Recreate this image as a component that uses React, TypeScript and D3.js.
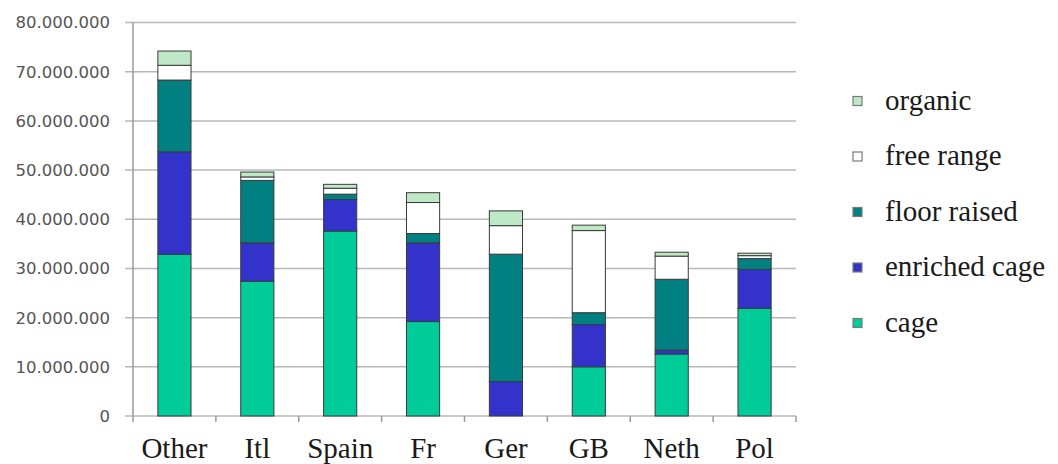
import React from "react";
import * as d3 from "d3";

const countries = ["Other", "Itl", "Spain", "Fr", "Ger", "GB", "Neth", "Pol"];
const seriesKeys = ["cage", "enriched cage", "floor raised", "free range", "organic"];
// values in millions of hens
const cage = [32.9, 27.4, 37.6, 19.2, 0, 10.0, 12.6, 21.9];
const enrichedCage = [20.8, 7.8, 6.4, 16.0, 7.0, 8.6, 0.8, 7.9];
const floorRaised = [14.6, 12.7, 1.1, 1.9, 25.9, 2.4, 14.4, 2.2];
const freeRange = [3.0, 0.7, 1.2, 6.3, 5.8, 16.7, 4.7, 0.6];
const organic = [2.9, 1.0, 0.8, 2.0, 3.0, 1.1, 0.8, 0.5];
const yTicks = [0, 10000000, 20000000, 30000000, 40000000, 50000000, 60000000, 70000000, 80000000];
const legendOrder = ["organic", "free range", "floor raised", "enriched cage", "cage"];

const colors: Record<string, string> = {
  cage: "#00cc99",
  "enriched cage": "#3333cc",
  "floor raised": "#008080",
  "free range": "#ffffff",
  organic: "#bfe8c6",
};

const W = 1058;
const H = 464;
const left = 133;
const right = 796;
const top = 22.5;
const bottom = 416;

export default function App() {
  const rows = countries.map((c, i) => ({
    country: c,
    cage: cage[i] * 1e6,
    "enriched cage": enrichedCage[i] * 1e6,
    "floor raised": floorRaised[i] * 1e6,
    "free range": freeRange[i] * 1e6,
    organic: organic[i] * 1e6,
  }));
  const stacked = d3.stack<any>().keys(seriesKeys)(rows);
  const x = d3.scaleBand().domain(countries).range([left, right]).paddingInner(0).paddingOuter(0);
  const y = d3.scaleLinear().domain([0, 80000000]).range([bottom, top]);
  const barW = x.bandwidth() * 0.4;
  const fmt = (v: number) => d3.format(",")(v).replace(/,/g, ".");

  return (
    <svg width={W} height={H} style={{ position: "absolute", left: 0, top: 0, background: "#fff" }}>
      {/* gridlines and y ticks */}
      {yTicks.map((t) => (
        <g key={t}>
          <line x1={left - 8} x2={right} y1={y(t)} y2={y(t)} stroke="#b8b8b8" strokeWidth={1.5} />
          <text
            x={110}
            y={y(t)}
            dy="0.36em"
            textAnchor="end"
            fontFamily="DejaVu Sans"
            fontSize={16.5}
            fill="#555"
          >
            {fmt(t)}
          </text>
        </g>
      ))}
      {/* y axis */}
      <line x1={left} x2={left} y1={top} y2={bottom} stroke="#9a9a9a" strokeWidth={1.5} />
      {/* x ticks */}
      {countries.concat(["__end"]).map((c, i) => {
        const xx = i < countries.length ? (x(c) as number) : right;
        return <line key={c} x1={xx} x2={xx} y1={bottom} y2={bottom + 6} stroke="#9a9a9a" strokeWidth={1.5} />;
      })}
      {/* bars */}
      {stacked.map((s) => (
        <g key={s.key}>
          {s.map((d, i) => {
            const h = y(d[0]) - y(d[1]);
            if (h <= 0) return null;
            return (
              <rect
                key={i}
                x={(x(countries[i]) as number) + (x.bandwidth() - barW) / 2}
                y={y(d[1])}
                width={barW}
                height={h}
                fill={colors[s.key]}
                stroke="#3a3a3a"
                strokeWidth={1}
              />
            );
          })}
        </g>
      ))}
      {/* x labels */}
      {countries.map((c) => (
        <text
          key={c}
          x={(x(c) as number) + x.bandwidth() / 2}
          y={458}
          textAnchor="middle"
          fontFamily="Liberation Serif"
          fontSize={29}
          fill="#1a1a1a"
        >
          {c}
        </text>
      ))}
      {/* legend */}
      {legendOrder.map((k, i) => {
        const cy = 101 + i * 55.5;
        return (
          <g key={k}>
            <rect x={853} y={cy - 4.5} width={9} height={9} fill={colors[k]} stroke="#7a7a7a" strokeWidth={1.2} />
            <text x={885} y={cy} dy="0.3em" fontFamily="Liberation Serif" fontSize={29} fill="#1a1a1a">
              {k}
            </text>
          </g>
        );
      })}
    </svg>
  );
}
